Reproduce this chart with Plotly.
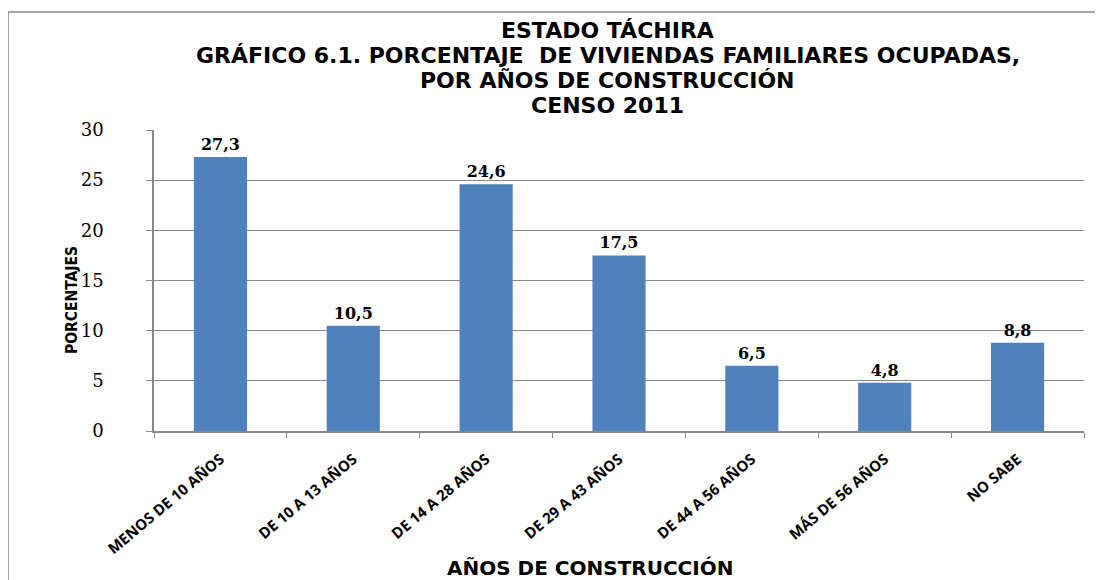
import plotly.graph_objects as go

CATEGORIES = [
    "MENOS DE 10 AÑOS",
    "DE 10 A 13 AÑOS",
    "DE 14 A 28 AÑOS",
    "DE 29 A 43 AÑOS",
    "DE 44 A 56 AÑOS",
    "MÁS DE 56 AÑOS",
    "NO SABE",
]
PERCENTAGES = [27.3, 10.5, 24.6, 17.5, 6.5, 4.8, 8.8]
Y_TICKS = [0, 5, 10, 15, 20, 25, 30]
TITLE_LINES = [
    "ESTADO TÁCHIRA",
    "GRÁFICO 6.1. PORCENTAJE  DE VIVIENDAS FAMILIARES OCUPADAS,",
    "POR AÑOS DE CONSTRUCCIÓN",
    "CENSO 2011",
]

COLORS = {
    "bar": "rgb(79, 129, 189)",
    "grid": "rgb(134, 134, 134)",
    "border": "rgb(134, 134, 134)",
    "text": "rgb(0, 0, 0)",
}
TITLE_FONT = "DejaVu Sans, sans-serif"
NARROW_FONT = "DejaVu Sans Condensed, sans-serif"
LABEL_FONT = "DejaVu Serif, serif"
TICK_FONT = "Open Sans, sans-serif"

labels = [f"{v:.1f}".replace(".", ",") for v in PERCENTAGES]

fig = go.Figure()
fig.add_trace(
    go.Bar(
        x=CATEGORIES,
        y=PERCENTAGES,
        text=labels,
        textposition="outside",
        cliponaxis=False,
        textfont={"family": LABEL_FONT, "size": 16, "color": COLORS["text"]},
        texttemplate="<b>%{text}</b>",
        marker={"color": COLORS["bar"], "line": {"width": 0}},
        hovertemplate="%{x}: %{y:.1f}<extra></extra>",
    )
)

# title lines sit at fixed spacing above the plot area (paper units)
title_annotations = [
    {
        "text": f"<b>{line}</b>",
        "xref": "paper",
        "yref": "paper",
        "x": 0.488,
        "y": 1.332 - 0.084 * i,
        "xanchor": "center",
        "yanchor": "middle",
        "showarrow": False,
        "font": {"family": TITLE_FONT, "size": 22, "color": COLORS["text"]},
    }
    for i, line in enumerate(TITLE_LINES)
]

# the page body has an 8px margin, so the figure is 8px smaller than the window
fig.update_layout(
    width=1095,
    height=572,
    paper_bgcolor="white",
    plot_bgcolor="white",
    margin={"l": 146, "r": 19, "t": 122, "b": 149, "autoexpand": False},
    bargap=0.6,
    showlegend=False,
    shapes=[
        {
            "type": "rect",
            "xref": "paper",
            "yref": "paper",
            "x0": -0.157,
            "x1": 1.015,
            "y0": -0.6,
            "y1": 1.392,
            "line": {"color": COLORS["border"], "width": 1.5},
            "layer": "below",
        }
    ],
    annotations=title_annotations
    + [
        {
            "text": "<b>AÑOS DE CONSTRUCCIÓN</b>",
            "xref": "paper",
            "yref": "paper",
            "x": 0.469,
            "y": -0.455,
            "xanchor": "center",
            "yanchor": "middle",
            "showarrow": False,
            "font": {"family": "DejaVu Sans, sans-serif", "size": 20, "color": COLORS["text"]},
        },
        {
            "text": "<b>PORCENTAJES</b>",
            "xref": "paper",
            "yref": "paper",
            "x": -0.0882,
            "y": 0.435,
            "xanchor": "center",
            "yanchor": "middle",
            "textangle": -90,
            "showarrow": False,
            "font": {"family": NARROW_FONT, "size": 15.5, "color": COLORS["text"]},
        },
    ],
)

fig.update_xaxes(
    type="category",
    automargin=False,
    tickson="boundaries",
    ticks="outside",
    ticklen=5,
    tickcolor=COLORS["grid"],
    showline=True,
    linecolor=COLORS["grid"],
    linewidth=1.5,
    showgrid=False,
    tickangle=-40,
    ticklabelstandoff=12,
    tickfont={"family": TICK_FONT, "size": 15, "color": COLORS["text"]},
    tickprefix="<b>",
    ticksuffix="</b>",
)
fig.update_yaxes(
    automargin=False,
    range=[0, 30],
    tickvals=Y_TICKS,
    ticks="outside",
    ticklen=6,
    tickcolor=COLORS["grid"],
    showline=True,
    linecolor=COLORS["grid"],
    linewidth=1.5,
    showgrid=True,
    gridcolor=COLORS["grid"],
    gridwidth=1,
    zeroline=False,
    ticklabelstandoff=39,
    tickfont={"family": LABEL_FONT, "size": 18, "color": COLORS["text"]},
)

fig.write_html("out.html")
